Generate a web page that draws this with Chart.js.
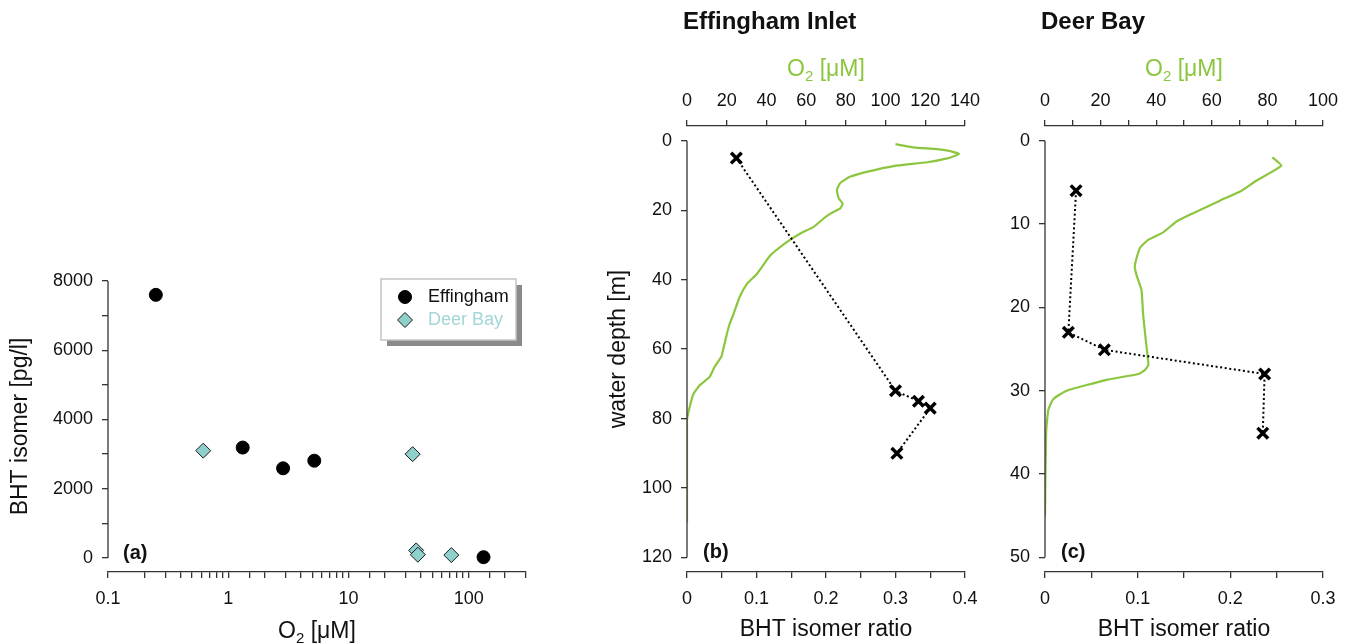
<!DOCTYPE html>
<html>
<head>
<meta charset="utf-8">
<script src="https://cdn.jsdelivr.net/npm/chart.js@4.4.1/dist/chart.umd.min.js"></script>
<style>
  html, body { margin: 0; padding: 0; background: #fff; }
  #wrap { position: relative; width: 1352px; height: 644px; }
  #wrap canvas { position: absolute; left: 0; top: 0; }
</style>
</head>
<body>
<div id="wrap">
  <canvas id="chartA" width="1352" height="644"></canvas>
  <canvas id="chartB" width="1352" height="644"></canvas>
  <canvas id="chartC" width="1352" height="644"></canvas>
</div>
<script>
// (a) BHT isomer concentration against O2
const effinghamO2 = [0.25, 1.32, 2.86, 5.2, 133];
const effinghamBHT = [7600, 3190, 2590, 2810, 25];
const deerBayO2 = [0.62, 34.2, 36.6, 37.8, 71.8];
const deerBayBHT = [3100, 3000, 220, 95, 85];
const bhtTicks = [0, 1000, 2000, 3000, 4000, 5000, 6000, 7000, 8000];

// (b) Effingham Inlet profile
const effRatio = [0.071, 0.300, 0.333, 0.350, 0.302];
const effRatioDepth = [5, 72, 75, 77, 90];
const effO2 = [105, 114, 130, 137, 131, 121, 104, 91, 82, 77, 75.5, 76.4, 78.4, 77.2, 72.2, 68.8, 63.8, 57.1,
  50.4, 42, 35.3, 30.2, 26.5, 23.5, 21.5, 20.1, 18.1, 17.3, 13.9, 11.4, 6.4, 3, 1, 0, 0];
const effO2Depth = [1, 1.9, 2.7, 3.8, 5.1, 6.2, 7.3, 8.9, 10.4, 12.3, 14.2, 16.6, 18.1, 19.5, 21, 22.4, 24.8, 26.7,
  29.1, 33, 38.3, 41.2, 45, 49.8, 52.7, 55.6, 60.4, 62.2, 65.1, 68, 70.4, 73.2, 77.5, 80.4, 110];
const effDepthTicks = [0, 20, 40, 60, 80, 100, 120];
const effO2Ticks = [0, 20, 40, 60, 80, 100, 120, 140];

// (c) Deer Bay profile
const deerRatio = [0.0335, 0.0252, 0.0641, 0.237, 0.235];
const deerRatioDepth = [6, 23, 25.1, 28, 35.1];
const deerO2 = [81.8, 85, 75.5, 70.7, 62.9, 53.3, 47.3, 42.5, 37.1, 34.1, 32.3, 32.9, 34.7, 35.3, 36.5, 37.2,
  36, 33.6, 22.2, 7.8, 3, 1.2, 0.4, 0];
const deerO2Depth = [2, 3, 4.9, 6, 7.2, 8.7, 9.7, 11, 11.9, 12.9, 15, 16.1, 17.9, 20.9, 24.7, 26.9,
  27.5, 28, 28.7, 30, 31, 32.3, 35.1, 45.1];
const deerDepthTicks = [0, 10, 20, 30, 40, 50];
const deerO2Ticks = [0, 10, 20, 30, 40, 50, 60, 70, 80, 90, 100];

const ratioTicks = [0, 0.05, 0.1, 0.15, 0.2, 0.25, 0.3, 0.35, 0.4];

const FONT = "'Liberation Sans', Arial, Helvetica, sans-serif";
const AXIS = '#333333';
const GREEN = '#8cc63f';
const TEXT = '#111111';
const TITLE_SIZE = 23;

Chart.defaults.font.family = FONT;
Chart.defaults.font.size = 18;
Chart.defaults.color = TEXT;
Chart.defaults.animation = false;

function pts(xs, ys) { return xs.map((x, i) => ({ x: x, y: ys[i] })); }
function tickGrid() { return { drawOnChartArea: false, drawTicks: true, tickLength: 6, color: AXIS, lineWidth: 1.3 }; }
function border() { return { display: true, color: AXIS, width: 1.3 }; }
function useTicks(values) { return s => { s.ticks = values.map(v => ({ value: v })); }; }
function everyOther(step) {
  return v => {
    const k = v / step;
    return Math.abs(k - Math.round(k)) < 1e-6 ? String(Number(v.toPrecision(6))) : '';
  };
}

function drawO2(ctx, cx, cy, size, color) {
  const big = size + 'px ' + FONT;
  const small = Math.round(size * 0.66) + 'px ' + FONT;
  ctx.save();
  ctx.fillStyle = color;
  ctx.textAlign = 'left';
  ctx.textBaseline = 'alphabetic';
  ctx.font = big;
  const wO = ctx.measureText('O').width;
  const wRest = ctx.measureText(' [μM]').width;
  ctx.font = small;
  const w2 = ctx.measureText('2').width;
  let x = cx - (wO + w2 + wRest) / 2;
  const base = cy + size * 0.36;
  ctx.font = big; ctx.fillText('O', x, base); x += wO;
  ctx.font = small; ctx.fillText('2', x, base + size * 0.22); x += w2;
  ctx.font = big; ctx.fillText(' [μM]', x, base);
  ctx.restore();
}

function drawText(ctx, text, x, y, font, color, align) {
  ctx.save();
  ctx.font = font;
  ctx.fillStyle = color;
  ctx.textAlign = align || 'left';
  ctx.textBaseline = 'middle';
  ctx.fillText(text, x, y);
  ctx.restore();
}

// vertical axis line only between the first and last tick
function yAxisLine(from, to) {
  return {
    id: 'yAxisLine',
    afterDraw(chart) {
      const y = chart.scales.y, ctx = chart.ctx, x = chart.chartArea.left;
      ctx.save();
      ctx.strokeStyle = AXIS;
      ctx.lineWidth = 1.3;
      ctx.beginPath();
      ctx.moveTo(x, y.getPixelForValue(from));
      ctx.lineTo(x, y.getPixelForValue(to));
      ctx.stroke();
      ctx.restore();
    }
  };
}

function legendBox(chart) {
  const ctx = chart.ctx;
  const bx = 381, by = 279, bw = 135, bh = 61;
  ctx.save();
  ctx.fillStyle = '#8a8a8a';
  ctx.fillRect(bx + 6, by + 6, bw, bh);
  ctx.fillStyle = '#ffffff';
  ctx.fillRect(bx, by, bw, bh);
  ctx.strokeStyle = '#c4c4c4';
  ctx.lineWidth = 1.5;
  ctx.strokeRect(bx, by, bw, bh);
  chart.data.datasets.forEach((ds, i) => {
    const cy = by + 18 + i * 23;
    ctx.fillStyle = ds.backgroundColor;
    ctx.strokeStyle = ds.borderColor;
    ctx.lineWidth = ds.borderWidth;
    Chart.helpers.drawPoint(ctx, { pointStyle: ds.pointStyle, radius: ds.pointRadius, borderWidth: ds.borderWidth, rotation: 0 }, bx + 24, cy);
    drawText(ctx, ds.label, bx + 47, cy, '18px ' + FONT, i === 0 ? TEXT : '#a3d6d6');
  });
  ctx.restore();
}

// ---------- (a) ----------
new Chart(document.getElementById('chartA'), {
  type: 'scatter',
  data: {
    datasets: [
      { label: 'Effingham', data: pts(effinghamO2, effinghamBHT), pointStyle: 'circle', pointRadius: 6.5,
        backgroundColor: '#000000', borderColor: '#000000', borderWidth: 1 },
      { label: 'Deer Bay', data: pts(deerBayO2, deerBayBHT), pointStyle: 'rectRot', pointRadius: 7.5,
        backgroundColor: '#8fcfcc', borderColor: '#1a1a1a', borderWidth: 1 }
    ]
  },
  options: {
    responsive: false,
    layout: { padding: { left: 0, right: 1352 - 526, top: 281, bottom: 0 } },
    plugins: { legend: { display: false }, tooltip: { enabled: false } },
    scales: {
      x: {
        type: 'logarithmic', position: 'bottom', min: 0.1, max: 300,
        afterFit: s => { s.height = 72; },
        border: border(), grid: tickGrid(),
        ticks: {
          autoSkip: false, maxRotation: 0, padding: 10,
          callback: v => {
            const l = Math.log10(v);
            return Math.abs(l - Math.round(l)) < 1e-6 ? String(Number(v.toPrecision(6))) : '';
          }
        }
      },
      y: {
        min: -404, max: 8000,
        afterBuildTicks: useTicks(bhtTicks),
        afterFit: s => { s.width = 108; },
        border: { display: false }, grid: tickGrid(),
        ticks: { padding: 9, callback: everyOther(2000) },
        title: { display: true, text: 'BHT isomer [pg/l]', font: { size: TITLE_SIZE }, padding: { top: 7, bottom: 0 } }
      }
    }
  },
  plugins: [yAxisLine(0, 8000), {
    id: 'textA',
    afterDraw(chart) {
      const ctx = chart.ctx;
      drawText(ctx, '(a)', 123, 553, 'bold 20px ' + FONT, TEXT);
      drawO2(ctx, (chart.chartArea.left + chart.chartArea.right) / 2, 630, TITLE_SIZE, TEXT);
      legendBox(chart);
    }
  }]
});

// ---------- (b) and (c) depth profiles ----------
function profileChart(id, cfg) {
  return new Chart(document.getElementById(id), {
    type: 'scatter',
    data: {
      datasets: [
        { label: 'BHT isomer ratio', data: pts(cfg.ratio, cfg.ratioDepth), xAxisID: 'x', showLine: true,
          borderColor: '#000000', backgroundColor: '#000000', borderWidth: 2, borderDash: [2, 2.6],
          pointStyle: 'crossRot', pointRadius: 7.5, pointBorderWidth: 3.5, pointBorderColor: '#000000' },
        { label: 'O2', data: pts(cfg.o2, cfg.o2Depth), xAxisID: 'xO2', showLine: true,
          borderColor: GREEN, borderWidth: 2.2, pointRadius: 0, tension: 0.15 }
      ]
    },
    options: {
      responsive: false,
      layout: { padding: { left: cfg.left - 82, right: 1352 - cfg.right, top: 86, bottom: 0 } },
      plugins: { legend: { display: false }, tooltip: { enabled: false } },
      scales: {
        x: {
          type: 'linear', position: 'bottom', min: 0, max: cfg.ratioMax,
          afterBuildTicks: useTicks(ratioTicks.filter(v => v <= cfg.ratioMax + 1e-9)),
          afterFit: s => { s.height = 72; },
          border: border(), grid: tickGrid(),
          ticks: { autoSkip: false, maxRotation: 0, padding: 10, callback: everyOther(0.1) },
          title: { display: true, text: 'BHT isomer ratio', font: { size: TITLE_SIZE }, padding: { top: 0, bottom: 1 } }
        },
        xO2: {
          type: 'linear', position: 'top', min: 0, max: cfg.o2Max,
          afterBuildTicks: useTicks(cfg.o2Ticks),
          afterFit: s => { s.height = 40; },
          border: border(), grid: tickGrid(),
          ticks: { autoSkip: false, maxRotation: 0, padding: 8, callback: everyOther(20) }
        },
        y: {
          type: 'linear', reverse: true, min: cfg.yMin, max: cfg.yMax,
          afterBuildTicks: useTicks(cfg.depthTicks),
          afterFit: s => { s.width = 82; },
          border: { display: false }, grid: tickGrid(),
          ticks: { padding: 9 },
          title: { display: cfg.yTitle, text: 'water depth [m]', font: { size: TITLE_SIZE }, padding: { top: 0, bottom: 0 } }
        }
      }
    },
    plugins: [yAxisLine(cfg.depthTicks[0], cfg.depthTicks[cfg.depthTicks.length - 1]), {
      id: 'text' + id,
      afterDraw(chart) {
        const ctx = chart.ctx;
        drawText(ctx, cfg.title, cfg.left - 4, 22, 'bold 24px ' + FONT, TEXT);
        drawO2(ctx, (chart.chartArea.left + chart.chartArea.right) / 2, 68, TITLE_SIZE, GREEN);
        drawText(ctx, cfg.label, cfg.left + 16, 552, 'bold 20px ' + FONT, TEXT);
      }
    }]
  });
}

profileChart('chartB', {
  left: 687, right: 965, title: 'Effingham Inlet', label: '(b)', yTitle: true,
  ratio: effRatio, ratioDepth: effRatioDepth, o2: effO2, o2Depth: effO2Depth,
  ratioMax: 0.4, o2Max: 140, o2Ticks: effO2Ticks, depthTicks: effDepthTicks, yMin: -4.23, yMax: 124.17
});

profileChart('chartC', {
  left: 1045, right: 1323, title: 'Deer Bay', label: '(c)', yTitle: false,
  ratio: deerRatio, ratioDepth: deerRatioDepth, o2: deerO2, o2Depth: deerO2Depth,
  ratioMax: 0.3, o2Max: 100, o2Ticks: deerO2Ticks, depthTicks: deerDepthTicks, yMin: -1.76, yMax: 51.76
});
</script>
</body>
</html>
